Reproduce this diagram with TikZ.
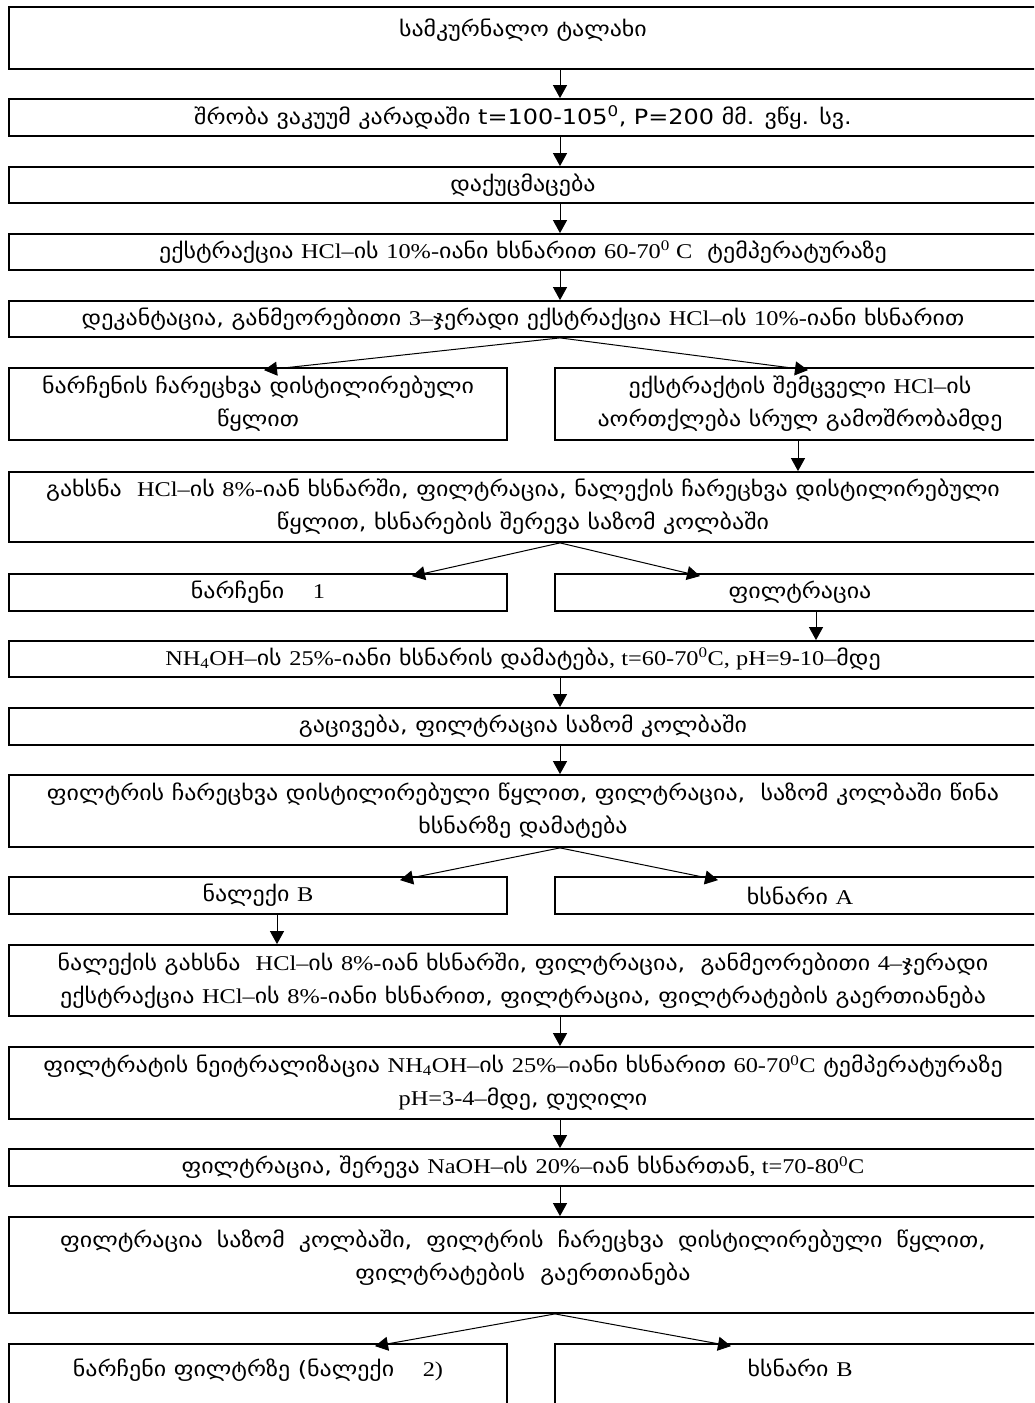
\documentclass[tikz,border=0pt]{standalone}
\usepackage{fontspec}
\setmainfont{DejaVu Sans}[FakeStretch=1.14]
\newfontfamily\tmsfont{Liberation Serif}[FakeStretch=1.16]
\newcommand\tm[1]{{\tmsfont #1}}
\newcommand\wsp{\hspace{14pt}}
\usetikzlibrary{arrows.meta}
\tikzset{
  box/.style={draw, line width=1.8pt, rectangle, inner sep=0pt, align=center,
    font=\fontsize{21}{33}\selectfont},
  full/.style={box, minimum width=1028pt},
  halfl/.style={box, minimum width=498pt},
  halfr/.style={box, minimum width=490pt},
  arr/.style={-{Triangle[width=14pt,length=13pt]}, line width=1pt},
}
\begin{document}
\begin{tikzpicture}[x=1pt,y=-1pt]
\useasboundingbox (0,0) rectangle (1034,1403);
\clip (0,0) rectangle (1034,1403);
% boxes
\node[full, minimum height=62pt] (b1) at (523,38) {სამკურნალო ტალახი\\[-13pt]~};
\node[full, minimum height=37pt] (b2) at (523,117.5) {შრობა ვაკუუმ კარადაში t=100-105\textsuperscript{0}, P=200 მმ. ვწყ. სვ.};
\node[full, minimum height=36pt] (b3) at (523,185) {დაქუცმაცება};
\node[full, minimum height=36pt] (b4) at (523,252) {ექსტრაქცია \tm{HCl–}ის \tm{10\%-}იანი ხსნარით \tm{60-70\textsuperscript{0} C}\ \ ტემპერატურაზე};
\node[full, minimum height=36pt] (b5) at (523,319) {დეკანტაცია, განმეორებითი \tm{3–}ჯერადი ექსტრაქცია \tm{HCl–}ის \tm{10\%-}იანი ხსნარით};
\node[halfl, minimum height=72pt] (l1) at (258,404) {ნარჩენის ჩარეცხვა დისტილირებული\\წყლით};
\node[halfr, minimum height=72pt] (r1) at (800,404) {ექსტრაქტის შემცველი \tm{HCl–}ის\\აორთქლება სრულ გამოშრობამდე};
\node[full, minimum height=70pt] (b6) at (523,507) {გახსნა\ \ \tm{HCl–}ის \tm{8\%-}იან ხსნარში, ფილტრაცია, ნალექის ჩარეცხვა დისტილირებული\\წყლით, ხსნარების შერევა საზომ კოლბაში};
\node[halfl, minimum height=37pt] (l2) at (258,592.5) {ნარჩენი\quad\ \tm{1}};
\node[halfr, minimum height=37pt] (r2) at (800,592.5) {ფილტრაცია};
\node[full, minimum height=36pt] (b7) at (523,659) {\tm{NH\textsubscript{4}OH–}ის \tm{25\%-}იანი ხსნარის დამატება\tm{, t=60-70\textsuperscript{0}C, pH=9-10–}მდე};
\node[full, minimum height=37pt] (b8) at (523,726.5) {გაცივება, ფილტრაცია საზომ კოლბაში};
\node[full, minimum height=72pt] (b9) at (523,811) {ფილტრის ჩარეცხვა დისტილირებული წყლით, ფილტრაცია,\ \ საზომ კოლბაში წინა\\ხსნარზე დამატება};
\node[halfl, minimum height=37pt] (l3) at (258,895.5) {ნალექი \tm{B}};
\node[halfr, minimum height=37pt] (r3) at (800,895.5) {ხსნარი \tm{A}};
\node[full, minimum height=71pt] (b10) at (523,980.5) {ნალექის გახსნა\ \ \tm{HCl–}ის \tm{8\%-}იან ხსნარში, ფილტრაცია,\ \ განმეორებითი \tm{4–}ჯერადი\\ექსტრაქცია \tm{HCl–}ის \tm{8\%-}იანი ხსნარით, ფილტრაცია, ფილტრატების გაერთიანება};
\node[full, minimum height=72pt] (b11) at (523,1083) {ფილტრატის ნეიტრალიზაცია \tm{NH\textsubscript{4}OH–}ის \tm{25\%–}იანი ხსნარით \tm{60-70\textsuperscript{0}C} ტემპერატურაზე\\\tm{pH=3-4–}მდე, დუღილი};
\node[full, minimum height=37pt] (b12) at (523,1167.5) {ფილტრაცია, შერევა \tm{NaOH–}ის \tm{20\%–}იან ხსნართან\tm{, t=70-80\textsuperscript{0}C}};
\node[full, minimum height=96pt] (b13) at (523,1265) {ფილტრაცია\wsp საზომ\wsp კოლბაში,\wsp ფილტრის\wsp ჩარეცხვა\wsp დისტილირებული\wsp წყლით,\\ფილტრატების\ \ გაერთიანება\\[-13pt]~};
\node[halfl, minimum height=96pt] (l4) at (258,1392) {ნარჩენი ფილტრზე (ნალექი\quad\ \tm{2)}\\[15pt]~};
\node[halfr, minimum height=96pt] (r4) at (800,1392) {ხსნარი \tm{B}\\[15pt]~};
% straight arrows
\draw[arr] ([xshift=37pt]b1.south) -- ([xshift=37pt]b2.north);
\draw[arr] ([xshift=37pt]b2.south) -- ([xshift=37pt]b3.north);
\draw[arr] ([xshift=37pt]b3.south) -- ([xshift=37pt]b4.north);
\draw[arr] ([xshift=37pt]b4.south) -- ([xshift=37pt]b5.north);
\draw[arr] ([xshift=-2pt]r1.south) -- ([xshift=275pt]b6.north);
\draw[arr] ([xshift=16pt]r2.south) -- ([xshift=293pt]b7.north);
\draw[arr] ([xshift=37pt]b7.south) -- ([xshift=37pt]b8.north);
\draw[arr] ([xshift=37pt]b8.south) -- ([xshift=37pt]b9.north);
\draw[arr] ([xshift=19pt]l3.south) -- ([xshift=-246pt]b10.north);
\draw[arr] ([xshift=37pt]b10.south) -- ([xshift=37pt]b11.north);
\draw[arr] ([xshift=37pt]b11.south) -- ([xshift=37pt]b12.north);
\draw[arr] ([xshift=37pt]b12.south) -- ([xshift=37pt]b13.north);
% branches
\draw[arr] ([xshift=37pt]b5.south) -- ([xshift=6pt,yshift=-3pt]l1.north);
\draw[arr] ([xshift=37pt]b5.south) -- ([xshift=8pt,yshift=-3pt]r1.north);
\draw[arr] ([xshift=37pt]b6.south) -- ([xshift=154pt,yshift=-3pt]l2.north);
\draw[arr] ([xshift=37pt]b6.south) -- ([xshift=-100pt,yshift=-3pt]r2.north);
\draw[arr] ([xshift=37pt]b9.south) -- ([xshift=142pt,yshift=-4pt]l3.north);
\draw[arr] ([xshift=37pt]b9.south) -- ([xshift=-82pt,yshift=-4pt]r3.north);
\draw[arr] ([xshift=32pt]b13.south) -- ([xshift=117pt,yshift=-3pt]l4.north);
\draw[arr] ([xshift=32pt]b13.south) -- ([xshift=-69pt,yshift=-3pt]r4.north);
\end{tikzpicture}
\end{document}
